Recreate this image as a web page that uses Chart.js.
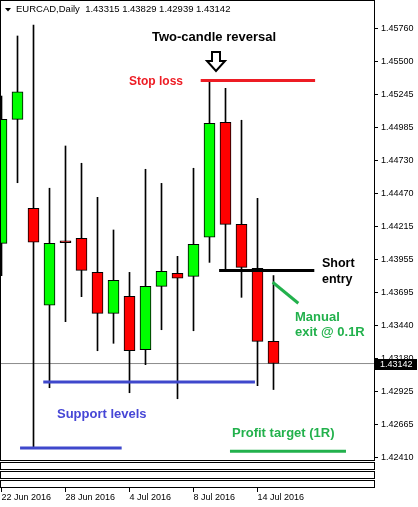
<!DOCTYPE html>
<html>
<head>
<meta charset="utf-8">
<script src="https://cdn.jsdelivr.net/npm/chart.js@4.4.0/dist/chart.umd.min.js"></script>
<style>
  html, body { margin: 0; padding: 0; background: #fff; }
  #wrap { width: 418px; height: 507px; }
</style>
</head>
<body>
<div id="wrap"><canvas id="chart" width="418" height="507"></canvas></div>
<script>
// EURCAD daily, one bar per trading day from 22 Jun 2016 to 15 Jul 2016
const opens  = [1.44081, 1.45049, 1.44354, 1.43597, 1.44089, 1.44120, 1.43854, 1.43534, 1.43667,
                1.43250, 1.43745, 1.43847, 1.43823, 1.44128, 1.45026, 1.44229, 1.43886, 1.43315];
const highs  = [1.45231, 1.45700, 1.45786, 1.44511, 1.44841, 1.44706, 1.44440, 1.44185, 1.43854,
                1.44659, 1.44549, 1.43979, 1.44667, 1.45346, 1.45291, 1.45042, 1.44432, 1.43829];
const lows   = [1.43828, 1.44554, 1.42493, 1.42953, 1.43469, 1.43664, 1.43242, 1.43300, 1.42914,
                1.43133, 1.43406, 1.42867, 1.43398, 1.43932, 1.43870, 1.43659, 1.42969, 1.42939];
const closes = [1.45049, 1.45263, 1.44089, 1.44081, 1.44085, 1.43870, 1.43534, 1.43792, 1.43242,
                1.43745, 1.43862, 1.43808, 1.44073, 1.45018, 1.44229, 1.43893, 1.43315, 1.43142];

const dateTickBars = [0, 4, 8, 12, 16];
const dateLabels = ['22 Jun 2016', '28 Jun 2016', '4 Jul 2016', '8 Jul 2016', '14 Jul 2016'];
const priceTicks = [1.45760, 1.45500, 1.45245, 1.44985, 1.44730, 1.44470, 1.44215,
                    1.43955, 1.43695, 1.43440, 1.43180, 1.42925, 1.42665, 1.42410];

// hand drawn levels: [bar, price] end points
const stopLossLine    = [[12.45, 1.45352], [19.6, 1.45352]];
const shortEntryLine  = [[13.6, 1.43869], [19.55, 1.43869]];
const supportUpper    = [[2.61, 1.42998], [15.84, 1.42998]];
const supportLower    = [[1.16, 1.42483], [7.51, 1.42483]];
const profitTarget    = [[14.28, 1.42457], [21.53, 1.42457]];
const manualExitMark  = [[16.95, 1.43777], [18.55, 1.43613]];

const lastClose = closes[closes.length - 1];

function pts(arr) {
    return arr.map(p => ({ x: p[0], y: p[1] }));
}

function levelSet(arr, color, width, order) {
    return {
        type: 'line',
        data: pts(arr),
        borderColor: color,
        borderWidth: width,
        pointRadius: 0,
        fill: false,
        order: order
    };
}

const overlay = {
    id: 'overlay',
    afterDraw(chart) {
        const ctx = chart.ctx;
        const ys = chart.scales.y;
        ctx.save();

        // chart frame and the three empty indicator panes
        ctx.strokeStyle = '#000';
        ctx.lineWidth = 1;
        ctx.strokeRect(0.5, 0.5, 374, 460);
        [462.5, 471.5, 480.5].forEach(t => ctx.strokeRect(0.5, t, 374, 7));

        // header
        ctx.fillStyle = '#000';
        ctx.beginPath();
        ctx.moveTo(5, 8); ctx.lineTo(11, 8); ctx.lineTo(8, 11.5); ctx.closePath();
        ctx.fill();
        ctx.font = '9.5px "Liberation Sans"';
        ctx.textBaseline = 'middle';
        ctx.fillText('EURCAD,Daily  ' + [opens, highs, lows, closes].map(a => a[a.length - 1].toFixed(5)).join(' '), 16, 9.5);

        // last price tag
        const py = Math.round(ys.getPixelForValue(lastClose));
        ctx.fillStyle = '#000';
        ctx.fillRect(375, py - 5, 42, 11);
        ctx.fillStyle = '#fff';
        ctx.font = '9px "Liberation Sans"';
        ctx.fillText(lastClose.toFixed(5), 380, py + 0.5);

        // notes
        ctx.textBaseline = 'alphabetic';
        ctx.font = 'bold 13px "Liberation Sans"';
        ctx.fillStyle = '#000';
        ctx.fillText('Two-candle reversal', 152, 41);
        ctx.font = 'bold 12.5px "Liberation Sans"';
        ctx.fillText('Short', 322, 267);
        ctx.fillText('entry', 322, 283);

        ctx.fillStyle = '#ed1c24';
        ctx.font = 'bold 12px "Liberation Sans"';
        ctx.fillText('Stop loss', 129, 85);

        ctx.fillStyle = '#22b14c';
        ctx.font = 'bold 13px "Liberation Sans"';
        ctx.fillText('Manual', 295, 321);
        ctx.fillText('exit @ 0.1R', 295, 336);
        ctx.fillText('Profit target (1R)', 232, 437);

        ctx.fillStyle = '#4646d6';
        ctx.fillText('Support levels', 57, 418);

        // hollow arrow
        ctx.strokeStyle = '#000';
        ctx.lineWidth = 2;
        ctx.beginPath();
        ctx.moveTo(212, 52); ctx.lineTo(220, 52); ctx.lineTo(220, 61); ctx.lineTo(225, 61);
        ctx.lineTo(216, 71); ctx.lineTo(207, 61); ctx.lineTo(212, 61); ctx.closePath();
        ctx.stroke();

        ctx.restore();
    }
};

const ctx = document.getElementById('chart');
const myChart = new Chart(ctx, {
    type: 'bar',
    data: {
        datasets: [
            {
                label: 'body',
                data: opens.map((o, i) => ({ x: i, y: [o, closes[i]] })),
                backgroundColor: opens.map((o, i) => closes[i] >= o ? '#00ff00' : '#ff0000'),
                borderColor: '#000',
                borderWidth: 1,
                borderSkipped: false,
                barThickness: 11,
                minBarLength: 2,
                grouped: false,
                order: 1
            },
            {
                label: 'wick',
                data: opens.map((o, i) => ({ x: i, y: [lows[i], highs[i]] })),
                backgroundColor: '#000',
                borderWidth: 0,
                barThickness: 1,
                grouped: false,
                order: 2
            },
            levelSet([[-0.1, lastClose], [23.4, lastClose]], '#8c8c8c', 1, 5),
            levelSet(stopLossLine, '#ed1c24', 3, 0),
            levelSet(shortEntryLine, '#000', 3, 0),
            levelSet(supportUpper, '#3f48cc', 3, 0),
            levelSet(supportLower, '#3f48cc', 3, 0),
            levelSet(profitTarget, '#22b14c', 3, 0),
            levelSet(manualExitMark, '#22b14c', 3, 0)
        ]
    },
    options: {
        responsive: false,
        animation: false,
        devicePixelRatio: 1,
        layout: { padding: 0 },
        plugins: {
            legend: { display: false },
            tooltip: { enabled: false }
        },
        font: { family: '"Liberation Sans"' },
        scales: {
            x: {
                type: 'linear',
                min: -0.09375,
                max: 23.34375,
                offset: false,
                grid: { display: true, drawOnChartArea: false, drawTicks: true, tickLength: 4, color: '#000', offset: false },
                border: { display: false },
                ticks: {
                    align: 'start',
                    padding: 0,
                    color: '#000',
                    maxRotation: 0,
                    autoSkip: false,
                    font: { family: '"Liberation Sans"', size: 9 },
                    callback: (v, i) => dateLabels[i]
                },
                afterBuildTicks: s => { s.ticks = dateTickBars.map(v => ({ value: v })); },
                afterFit: s => { s.height = 19; s.paddingLeft = 0; s.paddingRight = 0; }
            },
            y: {
                position: 'right',
                min: 1.42170,
                max: 1.45981,
                grid: { drawOnChartArea: false, drawTicks: true, tickLength: 3, color: '#000' },
                border: { display: false },
                ticks: {
                    padding: 3,
                    color: '#000',
                    font: { family: '"Liberation Sans"', size: 9 },
                    callback: v => v.toFixed(5)
                },
                afterBuildTicks: s => { s.ticks = priceTicks.map(v => ({ value: v })); },
                afterFit: s => { s.width = 43; s.paddingTop = 0; s.paddingBottom = 0; }
            }
        }
    },
    plugins: [overlay]
});
</script>
</body>
</html>
